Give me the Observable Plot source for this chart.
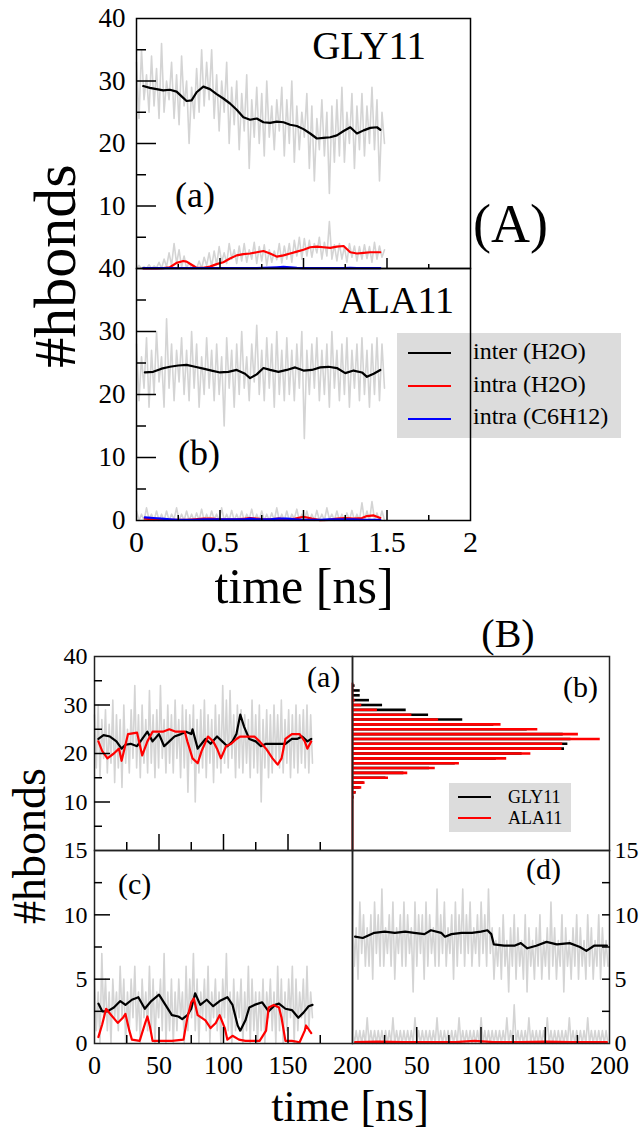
<!DOCTYPE html>
<html><head><meta charset="utf-8">
<script src="https://cdn.jsdelivr.net/npm/d3@7"></script>
<script src="https://cdn.jsdelivr.net/npm/@observablehq/plot@0.6"></script>
<style>
body{margin:0;background:#fff}
#root{position:relative;width:641px;height:1132px;overflow:hidden;background:#fff;font-family:"Liberation Serif",serif;color:#000}
#root svg{position:absolute}
.t{position:absolute;white-space:nowrap;line-height:0.8;font-family:"Liberation Serif",serif;color:#000}
.lg{position:absolute;background:#dcdcdc}
.ln{position:absolute}
</style></head><body><div id="root"></div>
<script>
// ---------- Panel (A)(a) GLY11 : time in ns ----------
const aGlyT = [0.04,0.08,0.12,0.16,0.20,0.24,0.28,0.30,0.33,0.36,0.40,0.44,0.48,0.52,0.56,0.60,0.64,0.68,0.72,0.76,0.80,0.84,0.88,0.92,0.96,1.00,1.04,1.08,1.12,1.16,1.20,1.24,1.28,1.32,1.36,1.40,1.44,1.46];
const aGlyInter = [29.2,28.9,28.7,28.5,28.6,28.3,27.3,26.8,26.9,28.2,29.1,28.7,27.9,27.2,26.4,25.4,24.2,23.8,24.0,23.4,23.3,23.5,23.4,23.0,22.8,22.3,21.6,20.8,20.9,21.0,21.3,22.0,22.6,21.6,22.1,22.5,22.6,22.2];
const aGlyIntraH2O = [0,0,0,0.05,0.2,0.9,1.2,1.1,0.6,0.1,0.1,0.3,0.7,1.0,1.6,2.1,2.3,2.4,2.6,2.8,2.4,1.9,2.1,2.4,2.7,3.0,3.4,3.5,3.4,3.3,3.5,3.6,2.6,2.4,2.5,2.6,2.6,2.6];
const aGlyIntraC6 = [0.05,0.05,0.05,0.05,0.05,0.05,0.05,0.05,0.05,0.05,0.05,0.05,0.05,0.05,0.05,0.05,0.05,0.05,0.05,0.1,0.15,0.2,0.25,0.2,0.1,0.05,0.05,0.05,0.05,0.05,0.05,0.05,0.1,0.05,0.05,0.05,0.05,0.05];
const aGlyRawStep = 0.015;
const aGlyRawInter = [33,24,35,27,31,25,34,26,32,24,36,25,30,27,33,24,31,23,34,26,30,20,29,24,32,25,35,26,33,27,35,24,31,22,30,25,33,20,29,23,30,19,28,22,31,16,27,21,29,20,28,18,30,21,26,19,27,22,29,18,27,20,30,17,26,19,25,21,28,16,26,14,24,19,27,18,25,12,26,17,27,18,29,17,25,20,28,16,26,19,28,18,26,20,29,19,27,14,25,20];
const aGlyRawIntra = [0,0.5,0,0.3,0,0.6,0,0.4,0.1,1,0,1.5,0.3,2.5,0.5,4,0.8,3,0.2,2,0,1,0,0.5,0,1.2,0,1.8,0.5,2.5,0.3,2.8,0.6,3.5,1,2.5,0.8,4,1.5,3,0.8,3.6,1.2,4,1,3,1.5,4.2,0.8,3.5,1.2,3.8,0.5,3,1,2.8,1.4,4,0.9,3.6,1.5,4,1,4.5,2,5,1.5,4.8,2,4.5,1.8,4,2.5,5,1.5,4.2,2,7.5,1.5,3.8,1.2,4,1.5,3.5,1,4,1.8,3.6,1.2,3.5,1.5,3.8,1.6,3.5,1,4.2,1.5,3.6,1.8,3];

// ---------- Panel (A)(b) ALA11 ----------
const aAlaT = [0.05,0.10,0.15,0.20,0.25,0.30,0.35,0.40,0.45,0.50,0.55,0.60,0.65,0.68,0.72,0.76,0.80,0.85,0.90,0.95,1.00,1.05,1.10,1.15,1.20,1.25,1.30,1.35,1.38,1.42,1.46];
const aAlaInter = [23.5,23.6,24.1,24.4,24.6,24.7,24.4,24.1,23.8,23.5,23.6,23.9,23.3,22.6,23.2,24.2,23.9,23.6,23.9,24.3,23.8,23.9,24.3,24.4,24.2,23.4,23.8,23.5,22.8,23.3,23.9];
const aAlaIntraH2O = [0.3,0.2,0.1,0.1,0.1,0.1,0.2,0.3,0.3,0.2,0.2,0.2,0.3,0.4,0.3,0.2,0.2,0.3,0.2,0.3,0.6,0.3,0.05,0.1,0.3,0.4,0.3,0.4,0.7,0.8,0.4];
const aAlaIntraC6 = [0.5,0.4,0.3,0.2,0.1,0.1,0.1,0.2,0.2,0.2,0.2,0.2,0.2,0.3,0.2,0.2,0.2,0.3,0.3,0.2,0.1,0.1,0.1,0.2,0.2,0.2,0.2,0.1,0.1,0.1,0.1];
const aAlaRawStep = 0.015;
const aAlaRawInter = [28,19,26,21,29,18,27,20,30,22,26,18,32,21,28,19,27,22,29,20,27,19,30,21,28,18,26,20,29,21,27,19,28,20,26,15,29,21,27,18,28,20,30,21,26,19,28,22,31,20,27,19,29,21,28,18,30,20,27,19,29,20,27,19,28,21,30,13,27,20,28,21,29,19,27,20,28,18,30,21,27,19,28,20,29,18,27,21,28,19,29,20,27,18,28,20,29,19,28,21];
const aAlaRawIntra = [1.5,0,1,0,2,0.2,1,0,1.5,0,1,0,1.5,0,1,0.2,2,0,1,0,1.5,0,1,0,1.2,0,1.8,0,1,0,1.5,0.2,1,0,2,0,1,0,1.6,0,1,0,1.5,0,1,0.2,1.8,0,1,0,1.5,0,1,0,1.2,0,2,0,1,0,1.5,0,1,0.3,1.8,0,1,0,1.5,0,1,0,1.6,0,1,0,2,0.2,1,0,1.5,0,1,0,1.2,0,1.6,0,1,0,2.8,0,1.5,0,3,0.2,1.2,0,1.5,0];
const legendA = ["inter (H2O)", "intra (H2O)", "intra (C6H12)"];

// ---------- Panel (B)(a) inter, 200 ns ----------
const bInterGlyT = [3,7,12,17,21,24,28,33,37,41,45,50,54,58,62,67,71,75,76,80,83,86,90,95,99,103,107,110,113,116,120,125,129,133,138,143,148,153,157,161,165,168];
const bInterGly = [23.0,23.8,23.5,22.5,21.0,21.8,22.0,21.5,23.0,24.5,22.5,24.0,21.5,22.5,23.5,24.0,24.5,24.0,25.0,21.0,22.0,23.0,22.0,23.5,22.5,21.5,22.5,24.0,28.0,25.5,23.0,22.5,21.5,22.0,22.0,22.0,22.0,23.0,23.0,23.5,22.5,23.0];
const bInterAlaT = [3,6,10,15,19,21,26,33,37,41,45,53,58,63,70,72,76,80,83,88,92,95,98,102,106,110,113,117,124,128,133,138,142,145,148,153,159,163,165,168];
const bInterAla = [22.5,20.5,19.0,20.0,21.0,18.5,24.0,24.3,19.6,22.5,24.5,24.5,25.0,24.5,24.5,22.5,19.0,18.0,20.5,23.5,22.5,21.0,19.0,21.5,22.0,23.0,23.5,23.5,23.5,22.5,21.0,19.0,17.7,19.0,23.0,24.0,24.0,22.5,21.0,22.5];
const bRawStep = 1.42;
const bInterRaw = [28,17,30,15,27,19,29,16,26,18,31,14,28,17,27,13,30,18,25,16,29,19,34,17,28,15,30,18,27,16,33,18,28,15,29,17,34,19,27,16,30,18,28,16,31,19,27,15,30,17,29,12,28,18,30,10,27,16,29,17,31,15,28,18,27,14,30,17,28,16,34,18,31,17,33,19,28,15,30,17,29,16,28,18,27,15,31,17,28,16,30,10,27,17,29,15,28,16,30,18,28,17,31,16,27,18,29,15,28,17,30,16,28,18,29,17,30,16,28,18];

// ---------- Panel (B)(b) histogram ----------
const hBins = [10,11,12,13,14,15,16,17,18,19,20,21,22,23,24,25,26,27,28,29,30,31,32,33,34,35];
const hGly = [0.004,0.006,0.014,0.030,0.045,0.130,0.200,0.300,0.400,0.560,0.660,0.825,0.838,0.850,0.820,0.680,0.550,0.429,0.296,0.209,0.117,0.066,0.030,0.030,0.010,0];
const hAla = [0.004,0.006,0.014,0.036,0.049,0.140,0.215,0.322,0.416,0.600,0.694,0.815,0.818,0.964,0.879,0.721,0.578,0.335,0.231,0.097,0.036,0.010,0.003,0.002,0.001,0];
const legendB = ["GLY11", "ALA11"];

// ---------- Panel (B)(c) intra H2O ----------
const cGlyT = [3,6,10,15,20,24,29,34,39,44,50,55,60,65,68,72,75,78,82,87,92,97,103,107,111,113,117,120,124,130,135,140,143,148,153,158,162,166,169];
const cGly = [3.1,2.5,2.5,2.8,3.3,3.0,3.4,3.6,2.7,3.3,3.8,3.0,2.2,2.1,1.9,2.2,2.7,3.9,3.0,3.4,2.9,3.3,3.6,3.0,1.4,1.0,1.8,2.8,3.0,3.2,2.5,3.0,3.1,2.7,2.6,2.0,2.4,2.9,3.0];
const cAlaT = [3,6,9,13,18,22,24,27,29,35,39,41,43,45,52,60,69,72,75,77,80,86,90,94,97,101,103,107,112,117,128,133,135,139,143,145,148,153,159,163,164,168];
const cAla = [0.5,1.5,2.7,2.2,1.6,2.0,2.3,1.0,0.3,0.2,1.5,2.1,1.3,0.2,0.2,0.2,0.3,2.0,3.2,3.5,2.2,1.8,1.2,1.6,2.2,1.2,0.3,0.6,0.3,0.2,0.2,1.0,2.8,3.0,2.8,2.0,0.2,0.2,0.1,1.0,1.4,0.8];
const cRaw = [5,1,4,0,7,2,5,1,4,0,5,2,4,1,6,2,5,0,4,1,5,2,6,1,4,0,5,2,4,1,6,1,5,0,4,2,5,1,7,0,4,1,5,0,4,1,5,2,4,0,6,1,5,2,7,1,5,0,4,2,5,1,6,0,4,2,5,1,4,0,5,2,7,1,4,0,5,1,4,2,5,0,4,1,6,0,5,1,4,0,4,1,5,0,4,2,5,1,4,0,6,1,5,0,4,1,5,2,6,0,5,1,4,2,5,1,6,1,4,2];

// ---------- Panel (B)(d) intra C6H12 ----------
const dGlyT = [2,8,17,25,33,41,48,56,61,69,72,77,85,93,100,105,108,110,118,126,131,136,143,151,159,169,177,182,188,196,198];
const dGly = [8.3,8.2,8.6,8.7,8.6,8.7,8.6,8.5,8.8,8.6,8.3,8.5,8.6,8.6,8.7,8.8,8.5,7.7,7.6,7.6,7.8,7.4,7.6,7.9,7.7,7.8,7.5,7.2,7.6,7.6,7.6];
const dAlaT = [2,20,40,60,80,95,110,130,150,170,198];
const dAla = [0.1,0.15,0.1,0.1,0.1,0.2,0.1,0.1,0.15,0.1,0.1];
const dRawStep = 1.43;
const dRawGly = [10,6,9,5,11,7,10,6,9,6,10,5,11,7,10,6,12,6,9,7,10,6,11,5,9,7,10,6,11,6,10,7,9,4,11,6,10,7,10,5,11,6,10,7,9,6,12,6,10,7,11,6,9,7,10,5,11,6,10,7,12,6,10,7,11,6,9,7,10,6,11,7,10,6,12,7,9,5,8,6,9,5,10,6,8,4,9,6,10,5,9,6,8,5,10,4,9,6,8,5,9,6,10,5,8,6,9,5,11,6,9,5,8,6,10,4,9,6,8,5,9,6,10,5,9,6,8,5,10,6,9,5,8,6,10,5,9,6,8,6];
const dRawAla = [1,0,1,0,1,0,1,0,2,0,1,0,1,0,1,0,1,0,1,0,1,0,2,0,1,0,1,0,1,0,1,0,1,0,2,0,1,0,1,0,1,0,1,0,1,0,2,0,1,0,1,0,1,0,1,0,1,0,2,0,1,0,1,0,1,0,1,0,1,0,2,0,1,0,1,0,1,0,1,0,1,0,1,0,2,0,1,0,3,0,1,0,1,0,1,0,2,0,1,0,1,0,1,0,1,0,2,0,1,0,1,0,1,0,1,0,1,0,2,0,1,0,1,0,1,0,1,0,2,0,1,0,1,0,1,0,1,0,1,0];

// ---------- drawing ----------
const root = document.getElementById("root");
const FONT = "Liberation Serif";
const GRAY = "#d4d4d4";
const GW = 1.6;
const RED = "#ff0000", BLUE = "#0000ff", BLACK = "#000000";
const fmt = d => String(d);
const ser = (ts, vs) => ts.map((t, i) => ({t, v: vs[i]}));
const raw = (vs, step) => vs.map((v, i) => ({t: i * step, v}));
const line = (data, stroke, w) => Plot.line(data, {x: "t", y: "v", stroke, strokeWidth: w});
const ticksY = (vals, len, anchor = "left", sw = 1.5) => Plot.axisY(vals, {anchor, tickSize: len, dx: anchor === "left" ? len : -len, fill: "none", stroke: "black", strokeWidth: sw, label: null});
const ticksX = (vals, len, sw = 1.5) => Plot.axisX(vals, {anchor: "bottom", tickSize: len, dy: -len, fill: "none", stroke: "black", strokeWidth: sw, label: null});
const labY = (vals, size, pad, anchor = "left") => Plot.axisY(vals, {anchor, tickSize: 0, tickPadding: pad, fontSize: size, fill: "black", label: null, tickFormat: fmt});
const labX = (vals, size, pad) => Plot.axisX(vals, {anchor: "bottom", tickSize: 0, tickPadding: pad, fontSize: size, fill: "black", label: null, tickFormat: fmt});

function panel({x0, y0, x1, y1, ml, mr, mt, mb, xd, yd, marks}) {
  const svg = Plot.plot({
    width: x1 - x0 + ml + mr, height: y1 - y0 + mt + mb,
    marginLeft: ml, marginRight: mr, marginTop: mt, marginBottom: mb,
    x: {domain: xd, label: null, axis: null}, y: {domain: yd, label: null, axis: null},
    style: {fontFamily: FONT, background: "transparent", overflow: "visible", color: "black"},
    marks
  });
  svg.style.left = (x0 - ml) + "px";
  svg.style.top = (y0 - mt) + "px";
  root.append(svg);
}
// line-height 0.8: baseline sits 0.7375em below the box top
function txt(s, {x, base, size, anchor = "start"}) {
  const d = document.createElement("div");
  d.className = "t"; d.textContent = s;
  d.style.fontSize = size + "px";
  d.style.left = x + "px";
  d.style.top = (base - 0.7375 * size) + "px";
  if (anchor === "middle") d.style.transform = "translateX(-50%)";
  if (anchor === "end") d.style.transform = "translateX(-100%)";
  root.append(d);
}
function vtxt(s, {cx, cy, size}) {
  const d = document.createElement("div");
  d.className = "t"; d.textContent = s;
  d.style.fontSize = size + "px";
  d.style.left = cx + "px"; d.style.top = cy + "px";
  d.style.transform = "translate(-50%,-50%) rotate(-90deg)";
  root.append(d);
}
function box(l, t, w, h) {
  const d = document.createElement("div"); d.className = "lg";
  Object.assign(d.style, {left: l + "px", top: t + "px", width: w + "px", height: h + "px"});
  root.append(d);
}
function swatch(l, t, w, color, th) {
  const d = document.createElement("div"); d.className = "ln";
  Object.assign(d.style, {left: l + "px", top: (t - th / 2) + "px", width: w + "px", height: th + "px", background: color});
  root.append(d);
}

// (A)(a)
panel({x0: 136, y0: 18, x1: 470, y1: 268, ml: 60, mr: 4, mt: 16, mb: 4, xd: [0, 2], yd: [0, 40], marks: [
  line(raw(aGlyRawInter, aGlyRawStep), GRAY, GW),
  line(raw(aGlyRawIntra, aGlyRawStep), GRAY, GW),
  line(ser(aGlyT, aGlyInter), BLACK, 2.2),
  line(ser(aGlyT, aGlyIntraH2O), RED, 2.2),
  line(ser(aGlyT, aGlyIntraC6), BLUE, 2.2),
  Plot.frame({stroke: "black", strokeWidth: 1.5}),
  ticksY([10, 20, 30], 20), ticksY([5, 15, 25, 35], 10),
  ticksX([0.5, 1, 1.5], 10), ticksX([0.25, 0.75, 1.25, 1.75], 4),
  labY([10, 20, 30, 40], 27, 11)
]});
// (A)(b) data layer
panel({x0: 136, y0: 268, x1: 470, y1: 520, ml: 60, mr: 4, mt: 16, mb: 50, xd: [0, 2], yd: [0, 40], marks: [
  line(raw(aAlaRawInter, aAlaRawStep), GRAY, GW),
  line(raw(aAlaRawIntra, aAlaRawStep), GRAY, GW),
  line(ser(aAlaT, aAlaInter), BLACK, 2.2),
  line(ser(aAlaT, aAlaIntraH2O), RED, 2.2),
  line(ser(aAlaT, aAlaIntraC6), BLUE, 2.2)
]});
// legend (A)
box(397, 333, 224, 105);
[BLACK, RED, BLUE].forEach((c, i) => {
  swatch(408, 353 + i * 33, 43, c, 2.5);
  txt(legendA[i], {x: 473, base: 360 + i * 32.5, size: 24});
});
// (A)(b) frame layer
panel({x0: 136, y0: 268, x1: 470, y1: 520, ml: 60, mr: 4, mt: 16, mb: 50, xd: [0, 2], yd: [0, 40], marks: [
  Plot.frame({stroke: "black", strokeWidth: 1.5}),
  ticksY([10, 20, 30], 20), ticksY([5, 15, 25, 35], 10),
  ticksX([0.5, 1, 1.5], 10), ticksX([0.25, 0.75, 1.25, 1.75], 5),
  labY([0, 10, 20, 30, 40], 27, 11),
  labX([0, 0.5, 1, 1.5, 2], 30, 10)
]});

// (B)(a)
panel({x0: 94, y0: 656, x1: 352, y1: 850, ml: 40, mr: 0, mt: 14, mb: 4, xd: [0, 200], yd: [0, 40], marks: [
  line(raw(bInterRaw, bRawStep), GRAY, GW),
  line(ser(bInterGlyT, bInterGly), BLACK, 2.2),
  line(ser(bInterAlaT, bInterAla), RED, 2.2),
  Plot.frame({stroke: "#222", strokeWidth: 1.5}),
  ticksY([10, 20, 30], 16), ticksY([5, 15, 25, 35], 8),
  ticksX([50, 100, 150], 16), ticksX([25, 75, 125, 175], 8),
  labY([10, 20, 30, 40], 24, 7)
]});
// (B)(b)
panel({x0: 352, y0: 656, x1: 609, y1: 850, ml: 0, mr: 4, mt: 4, mb: 4, xd: [0, 1], yd: [0, 40], marks: [
  Plot.ruleY(hBins.map((b, i) => ({b, n: hGly[i]})), {y: "b", x1: 0, x2: "n", stroke: BLACK, strokeWidth: 2.6}),
  Plot.ruleY(hBins.map((b, i) => ({b, n: hAla[i]})), {y: "b", x1: 0, x2: "n", stroke: RED, strokeWidth: 2.6}),
  Plot.ruleX([0], {y1: 0, y2: d3.max(hBins) - 0.5, stroke: "#9a1010", strokeWidth: 2}),
  Plot.frame({stroke: "#222", strokeWidth: 1.5})
]});
box(449, 783, 122, 49);
[BLACK, RED].forEach((c, i) => {
  swatch(458, 797 + i * 21, 33, c, 2);
  txt(legendB[i], {x: 508, base: 803 + i * 21, size: 18});
});
// (B)(c)
panel({x0: 94, y0: 850, x1: 352, y1: 1043, ml: 40, mr: 0, mt: 14, mb: 40, xd: [0, 200], yd: [0, 15], marks: [
  line(raw(cRaw, bRawStep), GRAY, GW),
  line(ser(cGlyT, cGly), BLACK, 2.2),
  line(ser(cAlaT, cAla), RED, 2.2),
  Plot.frame({stroke: "#222", strokeWidth: 1.5}),
  ticksY([5, 10], 16), ticksY([2.5, 7.5, 12.5], 8),
  ticksX([50, 100, 150], 16), ticksX([25, 75, 125, 175], 8),
  labY([0, 5, 10, 15], 24, 7),
  labX([0, 50, 100, 150, 200], 26, 12)
]});
// (B)(d)
panel({x0: 352, y0: 850, x1: 609, y1: 1043, ml: 0, mr: 32, mt: 14, mb: 40, xd: [0, 200], yd: [0, 15], marks: [
  line(raw(dRawGly, dRawStep), GRAY, GW),
  line(raw(dRawAla, dRawStep), GRAY, GW),
  line(ser(dGlyT, dGly), BLACK, 2.2),
  line(ser(dAlaT, dAla), RED, 2.2),
  Plot.frame({stroke: "#222", strokeWidth: 1.5}),
  ticksY([2.5, 5, 7.5, 10, 12.5], 8, "right"),
  ticksX([50, 100, 150], 16), ticksX([25, 75, 125, 175], 8),
  labY([0, 5, 10, 15], 24, 5, "right"),
  labX([50, 100, 150, 200], 26, 12)
]});

// texts
txt("GLY11", {x: 426, base: 59, size: 39, anchor: "end"});
txt("(a)", {x: 175, base: 208, size: 36});
txt("ALA11", {x: 454, base: 313, size: 38, anchor: "end"});
txt("(b)", {x: 178, base: 466, size: 36});
txt("(A)", {x: 473, base: 243, size: 54});
vtxt("#hbonds", {cx: 55, cy: 266, size: 60});
txt("time [ns]", {x: 304, base: 603, size: 50, anchor: "middle"});
txt("(B)", {x: 508, base: 647, size: 40, anchor: "middle"});
txt("(a)", {x: 307, base: 687, size: 30});
txt("(b)", {x: 563, base: 697, size: 30});
txt("(c)", {x: 118, base: 894, size: 30});
txt("(d)", {x: 526, base: 879, size: 30});
vtxt("#hbonds", {cx: 30, cy: 846, size: 46});
txt("time [ns]", {x: 350, base: 1121, size: 44, anchor: "middle"});
</script></body></html>
